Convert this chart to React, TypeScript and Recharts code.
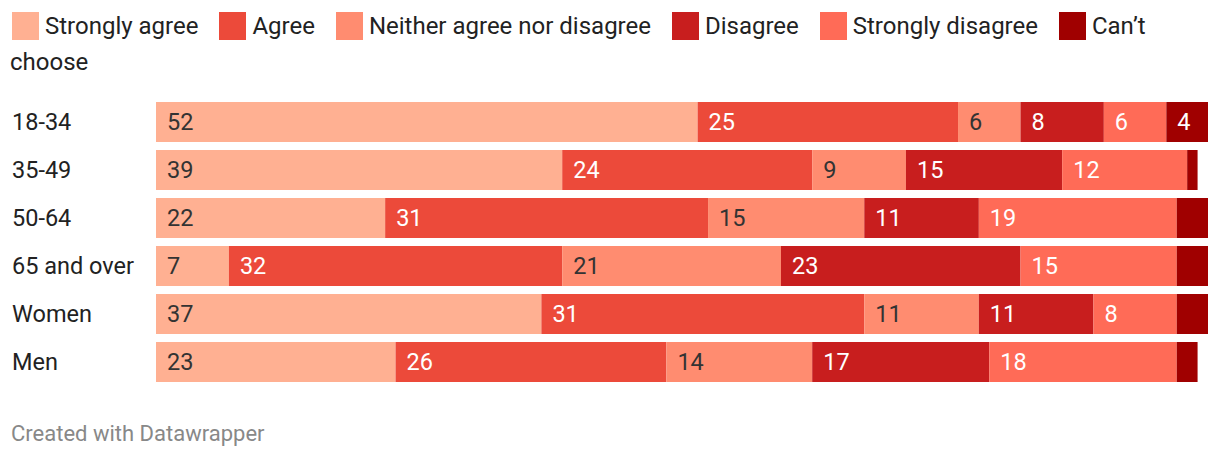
import { BarChart, Bar, XAxis, YAxis, LabelList } from "recharts";

const groups = ["18-34", "35-49", "50-64", "65 and over", "Women", "Men"];
const strongAgree = [52, 39, 22, 7, 37, 23];
const agree = [25, 24, 31, 32, 31, 26];
const neither = [6, 9, 15, 21, 11, 14];
const disagree = [8, 15, 11, 23, 11, 17];
const strongDisagree = [6, 12, 19, 15, 8, 18];
const cantChoose = [4, 1, 3, 3, 3, 2];

const SERIES = [
  { key: "sa", name: "Strongly agree", color: "#ffb092", text: "#333333" },
  { key: "a", name: "Agree", color: "#ec4a3a", text: "#ffffff" },
  { key: "n", name: "Neither agree nor disagree", color: "#ff8c70", text: "#333333" },
  { key: "d", name: "Disagree", color: "#c81e1e", text: "#ffffff" },
  { key: "sd", name: "Strongly disagree", color: "#ff6b57", text: "#ffffff" },
  { key: "c", name: "Can\u2019t choose", color: "#a00000", text: "#ffffff" },
];

const data = groups.map((name, i) => ({
  name,
  sa: strongAgree[i],
  a: agree[i],
  n: neither[i],
  d: disagree[i],
  sd: strongDisagree[i],
  c: cantChoose[i],
}));

const FONT = "Roboto, sans-serif";

const CategoryTick = (props: any) => {
  const { y, payload } = props;
  return (
    <text x={12} y={y} dy="0.35em" fontSize={23.5} fontFamily={FONT} fill="#222">
      {payload.value}
    </text>
  );
};

const makeLabel = (color: string) => (props: any) => {
  const { x, y, height, value } = props;
  if (value < 4) return null;
  return (
    <text
      x={x + 11}
      y={y + height / 2}
      dy="0.35em"
      fontSize={23.5}
      fontFamily={FONT}
      fill={color}
    >
      {value}
    </text>
  );
};

export default function App() {
  return (
    <div
      style={{
        position: "absolute",
        left: 0,
        top: 0,
        width: 1220,
        height: 460,
        background: "#fff",
        fontFamily: FONT,
      }}
    >
      <div
        style={{
          position: "absolute",
          left: 10,
          top: 8,
          width: 1200,
          fontSize: 24,
          lineHeight: "36px",
          color: "#222",
        }}
      >
        {SERIES.map((s) => (
          <span key={s.key} style={{ marginRight: 13 }}>
            <span
              style={{
                display: "inline-block",
                width: 27,
                height: 28,
                background: s.color,
                verticalAlign: "middle",
                marginLeft: 2,
                marginRight: 6,
                marginTop: -4,
              }}
            />
            {s.name}{" "}
          </span>
        ))}
      </div>
      <div style={{ position: "absolute", left: 0, top: 98 }}>
        <BarChart
          width={1220}
          height={288}
          data={data}
          layout="vertical"
          margin={{ top: 0, right: 12, bottom: 0, left: 0 }}
          barCategoryGap={8}
        >
          <XAxis type="number" domain={[0, 101]} hide />
          <YAxis
            type="category"
            dataKey="name"
            width={156}
            axisLine={false}
            tickLine={false}
            tick={<CategoryTick />}
          />
          {SERIES.map((s) => (
            <Bar
              key={s.key}
              dataKey={s.key}
              name={s.name}
              stackId="x"
              fill={s.color}
              barSize={40}
              isAnimationActive={false}
            >
              <LabelList dataKey={s.key} content={makeLabel(s.text)} />
            </Bar>
          ))}
        </BarChart>
      </div>
      <div
        style={{
          position: "absolute",
          left: 11,
          top: 421,
          fontSize: 22,
          color: "#888",
        }}
      >
        Created with Datawrapper
      </div>
    </div>
  );
}
